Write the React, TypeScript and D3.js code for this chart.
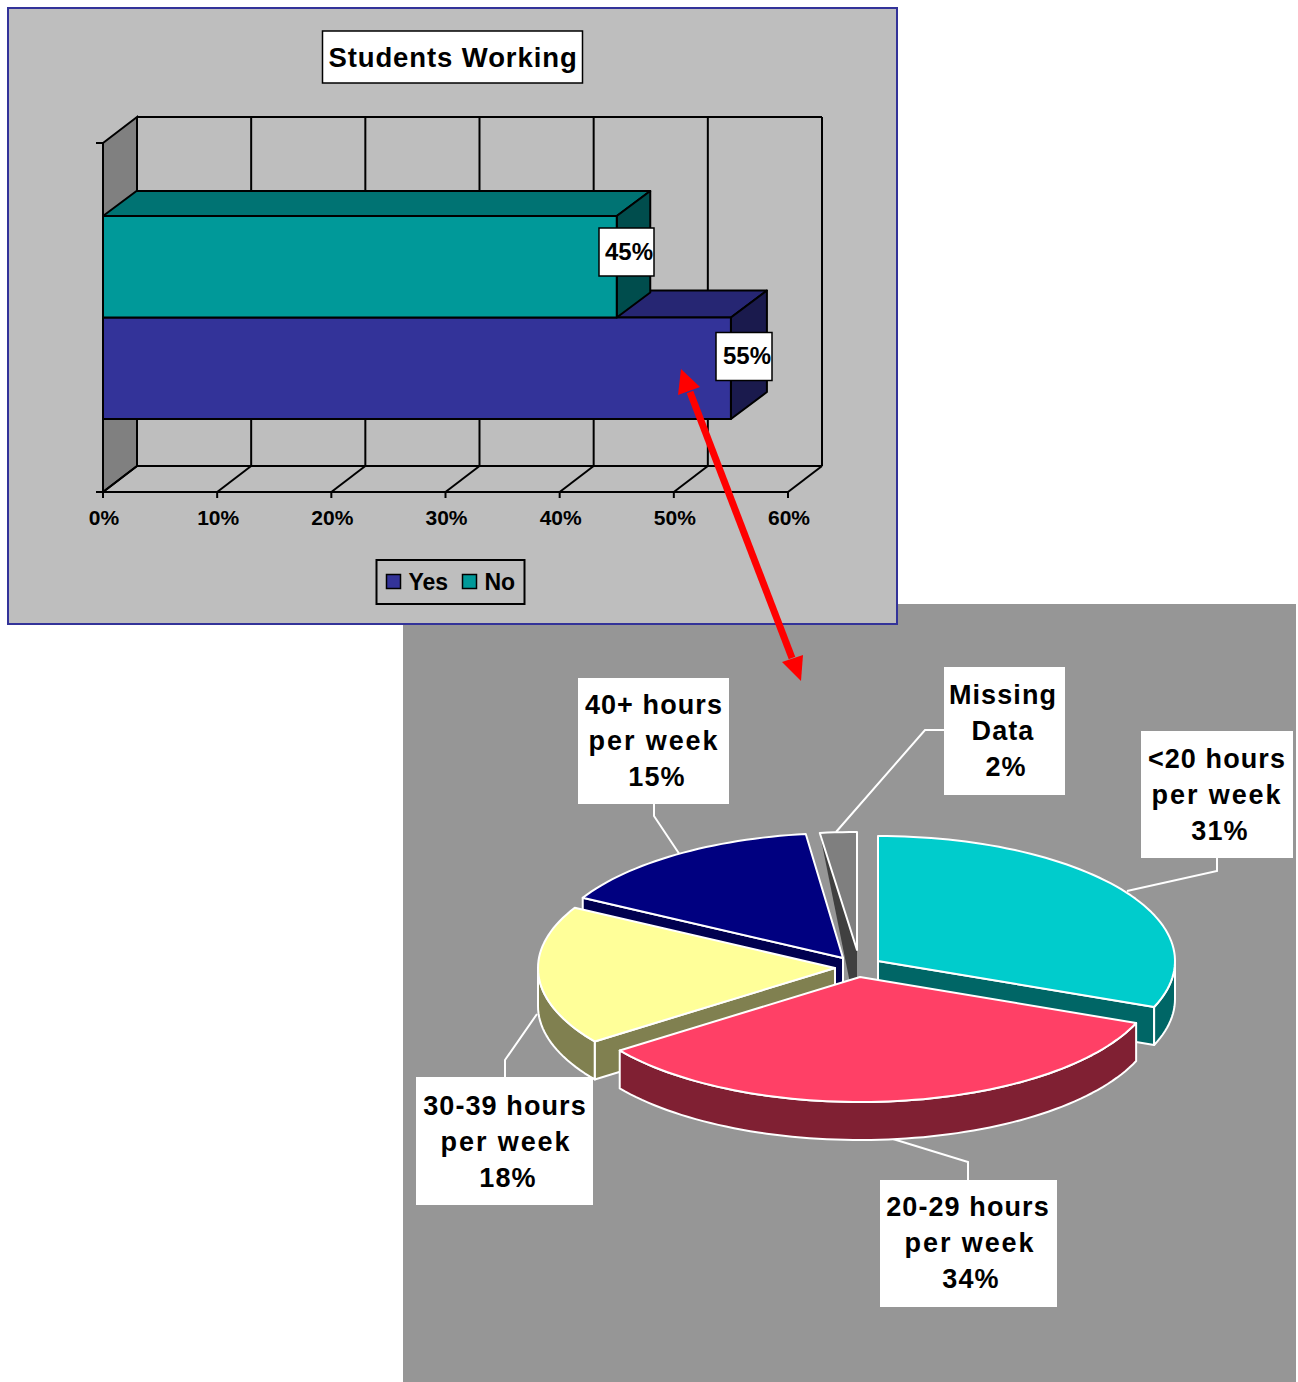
import React from "react";
import * as d3 from "d3";

// Bar chart data
const barCategories = ["No", "Yes"];
const barValues = [0.45, 0.55];
const barLabels = ["45%", "55%"];
const axisTicks = [0, 0.1, 0.2, 0.3, 0.4, 0.5, 0.6];
const legendNames = ["Yes", "No"];

// Pie chart data, clockwise from twelve o'clock
const pieNames = ["<20 hours", "20-29 hours", "30-39 hours", "40+ hours", "Missing"];
const pieValues = [31, 34, 18, 15, 2];

const FONT = "'Liberation Sans', Arial, sans-serif";
const BAR_STYLE: Record<string, { front: string; top: string; side: string; dx: number; dy: number }> = {
  Yes: { front: "#333399", top: "#262673", side: "#1a1a4d", dx: 36, dy: -27 },
  No: { front: "#009999", top: "#007373", side: "#004d4d", dx: 33.5, dy: -25 },
};

// 3D offsets of the bar chart's box
const DX = 34, DY = -26;
const x = d3.scaleLinear().domain([0, 0.6]).range([103, 788]);
const y = d3.scaleBand().domain(barCategories).range([143, 492]).paddingInner(0).paddingOuter(0.72);
const TOP = 143, FLOOR = 492;

// Pie projection: an ellipse with a vertical extrusion, each slice moved off its own apex
const RX = 297, RY = 125, DEPTH = 38;
const WEDGE_FOOT = 6;
const slices = [
  { fill: "#00cccc", wall: "#006666", cx: 878, cy: 961, ry: RY },
  { fill: "#ff4066", wall: "#802033", cx: 860, cy: 977, ry: RY },
  { fill: "#ffff99", wall: "#808050", cx: 835, cy: 968, ry: RY },
  { fill: "#000080", wall: "#000050", cx: 843, cy: 958, ry: RY },
  { fill: "#7f7f7f", wall: "#404040", cx: 857, cy: 950, ry: 118 },
];
const arcs = d3.pie<number>().sort(null).value((d) => d)(pieValues);
const line = d3.line<[number, number]>();

const rim = (i: number, a: number, dz = 0): [number, number] => [
  slices[i].cx + RX * Math.sin(a),
  slices[i].cy - slices[i].ry * Math.cos(a) + dz,
];
const sweep = (a0: number, a1: number) => {
  const n = Math.max(2, Math.ceil((a1 - a0) / 0.03));
  return d3.range(n + 1).map((k) => a0 + ((a1 - a0) * k) / n);
};
const apex = (i: number, dz = 0): [number, number] => [slices[i].cx, slices[i].cy + dz];
const topFace = (i: number) =>
  line([apex(i), ...sweep(arcs[i].startAngle, arcs[i].endAngle).map((a) => rim(i, a))]) + "Z";
const cutFace = (i: number, a: number) =>
  line([apex(i), rim(i, a), rim(i, a, DEPTH), apex(i, DEPTH)]) + "Z";
// The narrow slice shows its cut face as a wedge tapering up to the rim
const wedgeFace = (i: number, a: number) => {
  const [fx, fy] = apex(i, DEPTH);
  return line([rim(i, a), apex(i), [fx, fy], [fx - WEDGE_FOOT, fy]]) + "Z";
};
// Outer wall: only the near half of the ellipse is visible
const rimFace = (i: number) => {
  const a0 = Math.max(arcs[i].startAngle, Math.PI / 2);
  const a1 = Math.min(arcs[i].endAngle, (3 * Math.PI) / 2);
  if (a1 <= a0) return null;
  const s = sweep(a0, a1);
  return line([...s.map((a) => rim(i, a)), ...s.reverse().map((a) => rim(i, a, DEPTH))]) + "Z";
};

const pieLabels = [
  { lines: ["Missing", "Data", "2%"], box: [944, 667, 121, 128], tx: 1003, ty: 704, midShift: 0, leader: [[944, 730], [925, 730], [836, 832]] },
  { lines: ["<20 hours", "per week", "31%"], box: [1141, 731, 152, 127], tx: 1217, ty: 768, midShift: 0, leader: [[1217, 858], [1217, 871], [1127, 891]] },
  { lines: ["40+ hours", "per week", "15%"], box: [578, 678, 151, 126], tx: 654, ty: 714, midShift: 0, leader: [[654, 804], [654, 816], [680, 855]] },
  { lines: ["30-39 hours", "per week", "18%"], box: [416, 1077, 177, 128], tx: 505, ty: 1115, midShift: 1, leader: [[505, 1077], [505, 1060], [537, 1014]] },
  { lines: ["20-29 hours", "per week", "34%"], box: [880, 1180, 177, 127], tx: 968, ty: 1216, midShift: 2, leader: [[968, 1180], [968, 1162], [893, 1139]] },
];

function Bar3D({ name, value }: { name: string; value: number }) {
  const s = BAR_STYLE[name];
  const x0 = x(0), x1 = x(value);
  const y0 = y(name)!, y1 = y0 + y.bandwidth();
  const stroke = { stroke: "#000", strokeWidth: 2, strokeLinejoin: "round" as const };
  return (
    <g>
      <polygon points={`${x0},${y0} ${x0 + s.dx},${y0 + s.dy} ${x1 + s.dx},${y0 + s.dy} ${x1},${y0}`} fill={s.top} {...stroke} />
      <polygon points={`${x1},${y0} ${x1 + s.dx},${y0 + s.dy} ${x1 + s.dx},${y1 + s.dy} ${x1},${y1}`} fill={s.side} {...stroke} />
      <rect x={x0} y={y0} width={x1 - x0} height={y1 - y0} fill={s.front} {...stroke} />
    </g>
  );
}

function BarPanel() {
  const black = { stroke: "#000", strokeWidth: 2 };
  // The far bar is painted first so the nearer one overlaps its top face
  const paintOrder = barCategories.map((c, i) => ({ c, v: barValues[i] })).reverse();
  const labelBoxes = [
    { left: 599, top: 228, w: 55, h: 48, tx: 605, ty: 260 },
    { left: 716, top: 332.5, w: 56, h: 48, tx: 723, ty: 364 },
  ];
  return (
    <g fontFamily={FONT} fontWeight="bold" fill="#000">
      <rect x={8} y={8} width={889} height={616} fill="#bebebe" stroke="#333399" strokeWidth={2} />
      <rect x={322.5} y={31} width={260} height={52} fill="#fff" stroke="#000" strokeWidth={1.5} />
      <text x={453} y={67} textAnchor="middle" fontSize={27.5} letterSpacing={0.9}>Students Working</text>

      {/* side wall, back wall grid and floor */}
      <polygon points={`${x(0)},${TOP} ${x(0) + DX},${TOP + DY} ${x(0) + DX},${FLOOR + DY} ${x(0)},${FLOOR}`} fill="#808080" {...black} />
      <line x1={x(0) + DX} x2={x(0.6) + DX} y1={TOP + DY} y2={TOP + DY} {...black} />
      <line x1={x(0) + DX} x2={x(0.6) + DX} y1={FLOOR + DY} y2={FLOOR + DY} {...black} />
      <line x1={x(0)} x2={x(0.6)} y1={FLOOR} y2={FLOOR} {...black} />
      {axisTicks.map((t) => (
        <g key={t}>
          <line x1={x(t) + DX} x2={x(t) + DX} y1={TOP + DY} y2={FLOOR + DY} {...black} />
          <line x1={x(t)} x2={x(t) + DX} y1={FLOOR} y2={FLOOR + DY} {...black} />
          <line x1={x(t)} x2={x(t)} y1={FLOOR} y2={FLOOR + 6} {...black} />
          <text x={x(t) + 1} y={525} textAnchor="middle" fontSize={21}>{d3.format(".0%")(t)}</text>
        </g>
      ))}
      <line x1={96} x2={x(0)} y1={TOP} y2={TOP} {...black} />
      <line x1={96} x2={x(0)} y1={FLOOR} y2={FLOOR} {...black} />

      {paintOrder.map(({ c, v }) => <Bar3D key={c} name={c} value={v} />)}

      {barCategories.map((c, i) => {
        const b = labelBoxes[i];
        return (
          <g key={c}>
            <rect x={b.left} y={b.top} width={b.w} height={b.h} fill="#fff" stroke="#000" strokeWidth={1.5} />
            <text x={b.tx} y={b.ty} fontSize={24}>{barLabels[i]}</text>
          </g>
        );
      })}

      {/* legend */}
      <rect x={376.5} y={560} width={148} height={44} fill="#bebebe" stroke="#000" strokeWidth={2} />
      {legendNames.map((n, i) => {
        const lx = i === 0 ? 386.5 : 462.5;
        return (
          <g key={n}>
            <rect x={lx} y={574.5} width={14} height={14} fill={BAR_STYLE[n].front} stroke="#000" strokeWidth={1.5} />
            <text x={lx + 22} y={590} fontSize={23}>{n}</text>
          </g>
        );
      })}
    </g>
  );
}

function PiePanel() {
  const edge = { stroke: "#fff", strokeWidth: 2, strokeLinejoin: "round" as const };
  const [CYAN, RED, YEL, NAVY, MISS] = [0, 1, 2, 3, 4];
  return (
    <g>
      <rect x={403} y={604} width={893} height={778} fill="#969696" />

      {pieLabels.map((l, i) => (
        <path key={i} d={line(l.leader as [number, number][])!} fill="none" stroke="#fff" strokeWidth={2} />
      ))}

      {/* back to front: cut faces first, the near slice last */}
      <path d={wedgeFace(MISS, arcs[MISS].startAngle)} fill={slices[MISS].wall} />
      <path d={topFace(MISS)} fill={slices[MISS].fill} {...edge} />

      <path d={cutFace(NAVY, arcs[NAVY].startAngle)} fill={slices[NAVY].wall} {...edge} />
      <path d={topFace(NAVY)} fill={slices[NAVY].fill} {...edge} />

      <path d={cutFace(CYAN, arcs[CYAN].endAngle)} fill={slices[CYAN].wall} {...edge} />
      <path d={rimFace(CYAN)!} fill={slices[CYAN].wall} {...edge} />
      <path d={topFace(CYAN)} fill={slices[CYAN].fill} {...edge} />

      <path d={cutFace(YEL, arcs[YEL].startAngle)} fill={slices[YEL].wall} {...edge} />
      <path d={rimFace(YEL)!} fill={slices[YEL].wall} {...edge} />
      <path d={topFace(YEL)} fill={slices[YEL].fill} {...edge} />

      <path d={rimFace(RED)!} fill={slices[RED].wall} {...edge} />
      <path d={topFace(RED)} fill={slices[RED].fill} {...edge} />

      {pieLabels.map((l, i) => (
        <g key={i} fontFamily={FONT} fontWeight="bold" fontSize={27} fill="#000" textAnchor="middle">
          <rect x={l.box[0]} y={l.box[1]} width={l.box[2]} height={l.box[3]} fill="#fff" />
          {l.lines.map((t, j) => (
            <text key={j} x={l.tx + (j === 2 ? 3 : j === 1 ? l.midShift : 0)} y={l.ty + j * 36} letterSpacing={j === 1 && i > 0 ? 1.9 : 1.1}>{t}</text>
          ))}
        </g>
      ))}
    </g>
  );
}

function LinkArrow() {
  return (
    <g fill="#ff0000">
      <line x1={690} y1={392} x2={792} y2={658} stroke="#ff0000" strokeWidth={7} />
      <polygon points="681,369 678,395 700,387" />
      <polygon points="801,681 782,662 803,655" />
    </g>
  );
}

export default function App() {
  return (
    <svg width={1298} height={1382} style={{ position: "absolute", left: 0, top: 0, display: "block" }}>
      <rect width={1298} height={1382} fill="#fff" />
      <PiePanel />
      <BarPanel />
      <LinkArrow />
    </svg>
  );
}
